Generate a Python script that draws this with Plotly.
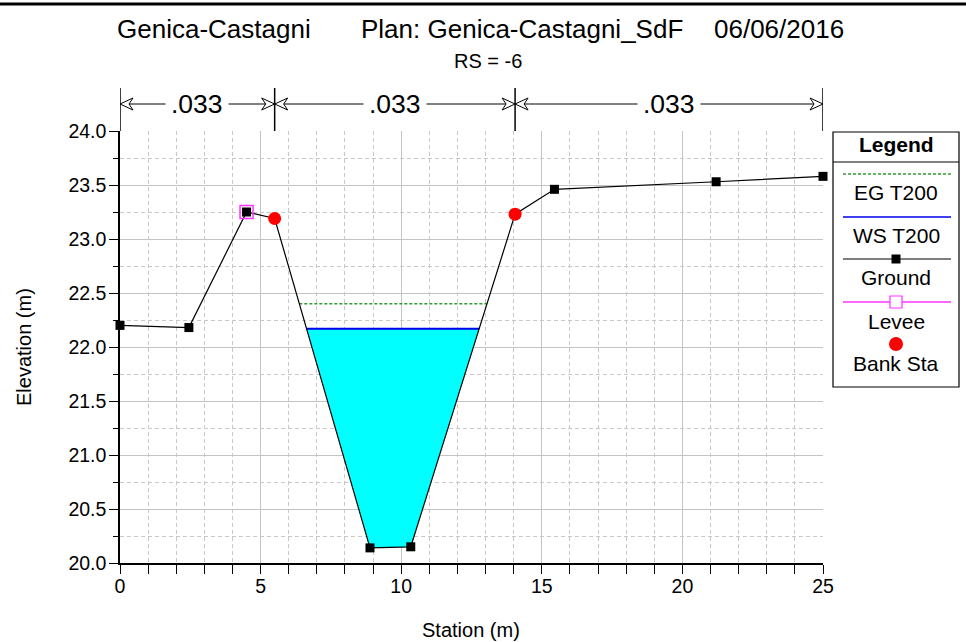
import numpy as np
import plotly.graph_objects as go

# Cross-section survey (station, elevation)
station = [0.0, 2.45, 4.5, 5.5, 8.89, 10.34, 14.05, 15.45, 21.2, 25.0]
elevation = [22.20, 22.18, 23.25, 23.19, 20.14, 20.15, 23.23, 23.46, 23.53, 23.58]

levee_sta = [4.5]
levee_elev = [23.25]

bank_sta = [5.5, 14.05]
bank_elev = [23.19, 23.23]

ws_t200 = 22.17   # water surface
eg_t200 = 22.40   # energy grade

n_breaks = [0.0, 5.5, 14.05, 25.0]
n_values = [".033", ".033", ".033"]

W, H = 966, 642
PL, PR, PT, PB = 120, 823, 131, 563   # plot area in pixels


def fx(p):
    return p / W


def fy(p):
    return 1 - p / H


def crossings(level):
    """Left/right stations where the ground crosses a given level around the thalweg."""
    s = np.array(station)
    z = np.array(elevation)
    i0 = int(np.argmin(z))
    i = i0
    while z[i] < level:
        i -= 1
    xl = s[i] + (level - z[i]) * (s[i + 1] - s[i]) / (z[i + 1] - z[i])
    left_idx = i + 1
    j = i0
    while z[j] < level:
        j += 1
    xr = s[j - 1] + (level - z[j - 1]) * (s[j] - s[j - 1]) / (z[j] - z[j - 1])
    right_idx = j - 1
    return xl, xr, left_idx, right_idx


xl, xr, li, ri = crossings(ws_t200)
fill_x = [xl] + station[li:ri + 1] + [xr]
fill_y = [ws_t200] + elevation[li:ri + 1] + [ws_t200]
exl, exr, _, _ = crossings(eg_t200)

fig = go.Figure()

fig.add_trace(go.Scatter(x=fill_x, y=fill_y, fill="toself", fillcolor="#00ffff",
                         mode="lines", line=dict(width=0), hoverinfo="skip"))
fig.add_trace(go.Scatter(x=[exl, exr], y=[eg_t200, eg_t200], mode="lines",
                         line=dict(color="#2f9a2f", width=1.5, dash="3px,2px")))
fig.add_trace(go.Scatter(x=[xl, xr], y=[ws_t200, ws_t200], mode="lines",
                         line=dict(color="#0000ee", width=2)))
fig.add_trace(go.Scatter(x=station, y=elevation, mode="lines+markers", cliponaxis=False,
                         line=dict(color="black", width=1.2),
                         marker=dict(symbol="square", size=9, color="black")))
fig.add_trace(go.Scatter(x=levee_sta, y=levee_elev, mode="markers", cliponaxis=False,
                         marker=dict(symbol="square-open", size=13, color="#ff33ff",
                                     line=dict(width=1.5, color="#ff33ff"))))
fig.add_trace(go.Scatter(x=bank_sta, y=bank_elev, mode="markers", cliponaxis=False,
                         marker=dict(symbol="circle", size=13, color="#ff0000")))

shapes = []
annotations = []
font = "Liberation Sans, Arial, sans-serif"


def label(x, y, text, size, xref="paper", yref="paper", **kw):
    d = dict(x=x, y=y, xref=xref, yref=yref, text=text, showarrow=False,
             xanchor="center", yanchor="middle",
             font=dict(size=size, color="black", family=font))
    d.update(kw)
    annotations.append(d)


# frame line across the top of the window
shapes.append(dict(type="line", xref="paper", yref="paper", x0=0, x1=1,
                   y0=fy(4), y1=fy(4), line=dict(color="black", width=3)))

# Manning's n bar above the plot
ppu = (PR - PL) / (n_breaks[-1] - n_breaks[0])   # pixels per station unit
y_arrow = fy(104)
for b in n_breaks:
    shapes.append(dict(type="line", xref="x", yref="paper", x0=b, x1=b,
                       y0=fy(88), y1=fy(PT), line=dict(color="black", width=1.5)))
ah_dx = 13 / ppu
ah_dn = 9 / ppu
ah_dy = 6 / H
for k in range(len(n_values)):
    a, b = n_breaks[k], n_breaks[k + 1]
    shapes.append(dict(type="line", xref="x", yref="paper", x0=a, x1=b,
                       y0=y_arrow, y1=y_arrow, line=dict(color="black", width=1)))
    for tip, sgn in ((a, 1), (b, -1)):
        path = (f"M {tip} {y_arrow} L {tip + sgn * ah_dx} {y_arrow + ah_dy} "
                f"L {tip + sgn * ah_dn} {y_arrow} L {tip + sgn * ah_dx} {y_arrow - ah_dy} Z")
        shapes.append(dict(type="path", xref="x", yref="paper", path=path,
                           line=dict(color="black", width=1), fillcolor="white"))
    label((a + b) / 2, y_arrow, n_values[k], 26.5, xref="x", bgcolor="white", borderpad=5)

# titles
label(fx(214), fy(29), "Genica-Castagni", 26)
label(fx(522), fy(29), "Plan: Genica-Castagni_SdF", 26)
label(fx(779), fy(29), "06/06/2016", 26)
label(fx(488), fy(61), "RS = -6", 20)

# axis titles
label(fx(471), fy(630), "Station (m)", 20)
label(fx(24), fy(347), "Elevation (m)", 20, textangle=-90)

# legend box
LX0, LX1, LY0, LY1 = 833, 959, 132, 387
shapes.append(dict(type="rect", xref="paper", yref="paper", x0=fx(LX0), x1=fx(LX1),
                   y0=fy(LY0), y1=fy(LY1), line=dict(color="black", width=1.2),
                   fillcolor="white"))
shapes.append(dict(type="line", xref="paper", yref="paper", x0=fx(LX0), x1=fx(LX1),
                   y0=fy(162), y1=fy(162), line=dict(color="black", width=1)))
lcx = (LX0 + LX1) / 2
label(fx(lcx), fy(145), "<b>Legend</b>", 21)
sx0, sx1 = 843, 951
legend_rows = [
    ("EG T200", 174, 192, dict(color="#2f9a2f", width=1.5, dash="3px,2px")),
    ("WS T200", 217, 235, dict(color="#0000ee", width=1.5)),
    ("Ground", 259, 278, dict(color="black", width=1.2)),
    ("Levee", 302, 321, dict(color="#ff33ff", width=1.5)),
]
for name, ly, ty, ln in legend_rows:
    shapes.append(dict(type="line", xref="paper", yref="paper", x0=fx(sx0), x1=fx(sx1),
                       y0=fy(ly), y1=fy(ly), line=ln))
    label(fx(lcx), fy(ty), name, 21)
# legend symbols
shapes.append(dict(type="rect", xref="paper", yref="paper", x0=fx(lcx - 4.5), x1=fx(lcx + 4.5),
                   y0=fy(259 - 4.5), y1=fy(259 + 4.5), fillcolor="black", line=dict(width=0)))
shapes.append(dict(type="rect", xref="paper", yref="paper", x0=fx(lcx - 6), x1=fx(lcx + 6),
                   y0=fy(302 - 6), y1=fy(302 + 6), fillcolor="white",
                   line=dict(color="#ff33ff", width=1.2)))
shapes.append(dict(type="circle", xref="paper", yref="paper", x0=fx(lcx - 7), x1=fx(lcx + 7),
                   y0=fy(344 - 7), y1=fy(344 + 7), fillcolor="#ff0000", line=dict(width=0)))
label(fx(lcx), fy(364), "Bank Sta", 21)

fig.update_layout(
    width=W, height=H, margin=dict(l=0, r=0, t=0, b=0),
    paper_bgcolor="white", plot_bgcolor="white", showlegend=False,
    font=dict(family=font, color="black"),
    shapes=shapes, annotations=annotations,
    xaxis=dict(domain=[fx(PL), fx(PR)], range=[0, 25], dtick=5, tick0=0,
               showgrid=True, gridcolor="#c4c4c4", gridwidth=1, zeroline=False,
               showline=True, linecolor="black", linewidth=1.5,
               ticks="outside", ticklen=9, tickcolor="black", ticklabelstandoff=-4,
               tickfont=dict(size=19.5, color="black", family=font),
               minor=dict(dtick=1, showgrid=True, gridcolor="#c8c8c8", griddash="4px,3px",
                          ticks="outside", ticklen=9, tickcolor="black"),
               automargin=False, fixedrange=True),
    yaxis=dict(domain=[fy(PB), fy(PT)], range=[20, 24], dtick=0.5, tick0=20,
               tickformat=".1f",
               showgrid=True, gridcolor="#c4c4c4", gridwidth=1, zeroline=False,
               showline=True, linecolor="black", linewidth=1.5,
               ticks="outside", ticklen=9, tickcolor="black", ticklabelstandoff=-1,
               tickfont=dict(size=19.5, color="black", family=font),
               minor=dict(dtick=0.25, showgrid=True, gridcolor="#c8c8c8", griddash="4px,3px",
                          ticks="outside", ticklen=5, tickcolor="black"),
               automargin=False, fixedrange=True),
)

fig.write_html("out.html")
